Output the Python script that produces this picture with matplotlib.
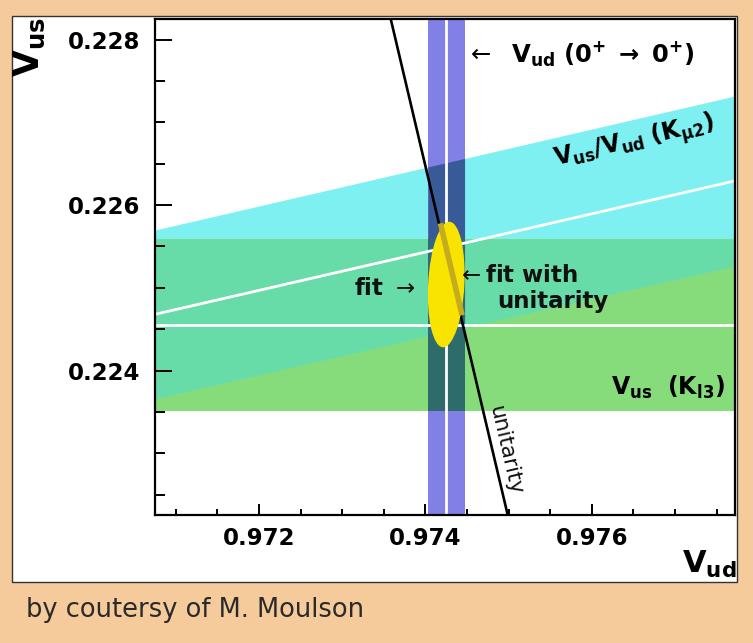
import numpy as np
import matplotlib.pyplot as plt
from matplotlib.patches import Ellipse, Rectangle
from matplotlib.ticker import MultipleLocator, FormatStrFormatter

# values
vud_00 = 0.97425          # V_ud from 0+ -> 0+ decays
vud_00_err = 0.00022
vus_kl3 = 0.22455         # V_us from K_l3
vus_kl3_err = 0.00104
ratio_kmu2 = 0.23145      # V_us/V_ud from K_mu2
ratio_kmu2_err = 0.00105

fit_center = [0.97425, 0.22504]
fit_size = [0.000435, 0.00152]   # full widths of the fit ellipse
fit_angle = -3.0

unitarity_vud = [0.97355, 0.97502]
unitarity_vus = [0.22839, 0.22212]
fit_unit_vud = [0.97418, 0.97444]
fit_unit_vus = [0.22578, 0.22467]

xlim = (0.97075, 0.97772)
ylim = (0.22226, 0.22825)

# colours
PEACH = '#f6cb9c'
CYAN = '#7ff0f1'
GREEN = '#86dc7a'
MINT = '#68dca8'
BLUE = '#8080e6'
BLUE_CYAN = '#385a96'
BLUE_MINT = '#2f6a80'
BLUE_GREEN = '#2e6c6c'
YELLOW = '#f8e400'
GOLD = '#c4ac1c'

W, H = 753, 643


def px(x, y):
    return x / W, 1 - y / H


fig = plt.figure(figsize=(W / 100, H / 100), dpi=100, facecolor=PEACH)
panel = Rectangle(px(12, 582), (737 - 12) / W, (582 - 16) / H, transform=fig.transFigure,
                  facecolor='white', edgecolor='#333333', lw=1, zorder=-1)
fig.patches.append(panel)

l, b = px(155, 514.5)
r, t = px(735, 19)
ax = fig.add_axes([l, b, r - l, t - b])
ax.set_facecolor('none')

# K_mu2 band and K_l3 band
xs = np.linspace(xlim[0] - 0.001, xlim[1] + 0.001, 300)
kmu_lo = (ratio_kmu2 - ratio_kmu2_err) * xs
kmu_hi = (ratio_kmu2 + ratio_kmu2_err) * xs
kl3_lo = vus_kl3 - vus_kl3_err
kl3_hi = vus_kl3 + vus_kl3_err
ax.fill_between(xs, kmu_lo, kmu_hi, color=CYAN, lw=0, zorder=1)
ax.axhspan(kl3_lo, kl3_hi, color=GREEN, lw=0, zorder=1.1)
lo = np.maximum(kmu_lo, kl3_lo)
hi = np.minimum(kmu_hi, kl3_hi)
ax.fill_between(xs, lo, hi, where=hi > lo, interpolate=True, color=MINT, lw=0, zorder=1.2)

# V_ud band, darker where it crosses the others
xb = np.linspace(vud_00 - vud_00_err, vud_00 + vud_00_err, 20)
ax.axvspan(vud_00 - vud_00_err, vud_00 + vud_00_err, color=BLUE, lw=0, zorder=2)
b_lo = (ratio_kmu2 - ratio_kmu2_err) * xb
b_hi = (ratio_kmu2 + ratio_kmu2_err) * xb
ax.fill_between(xb, b_lo, b_hi, color=BLUE_CYAN, lw=0, zorder=2.1)
ax.fill_between(xb, kl3_lo, kl3_hi, color=BLUE_GREEN, lw=0, zorder=2.2)
ax.fill_between(xb, np.maximum(b_lo, kl3_lo), np.minimum(b_hi, kl3_hi),
                color=BLUE_MINT, lw=0, zorder=2.3)

# central values
ax.axvline(vud_00, color='white', lw=2, zorder=3)
ax.axhline(vus_kl3, color='white', lw=2, zorder=3)
ax.plot(xs, ratio_kmu2 * xs, color='white', lw=2, zorder=3)

# unitarity
ax.plot(unitarity_vud, unitarity_vus, color='black', lw=1.9, zorder=4)

# fits
ax.add_patch(Ellipse(fit_center, fit_size[0], fit_size[1], angle=fit_angle,
                     facecolor=YELLOW, edgecolor='none', zorder=5))
ax.plot(fit_unit_vud, fit_unit_vus, color=GOLD, lw=4, solid_capstyle='butt', zorder=6)

ax.set_xlim(xlim)
ax.set_ylim(ylim)

ax.xaxis.set_major_locator(MultipleLocator(0.002))
ax.xaxis.set_minor_locator(MultipleLocator(0.0005))
ax.yaxis.set_major_locator(MultipleLocator(0.002))
ax.yaxis.set_minor_locator(MultipleLocator(0.0005))
ax.xaxis.set_major_formatter(FormatStrFormatter('%.3f'))
ax.yaxis.set_major_formatter(FormatStrFormatter('%.3f'))

ax.tick_params(axis='both', which='both', direction='in', width=1.4, color='black',
               top=False, right=False, labelsize=16.5)
ax.tick_params(axis='x', which='major', length=8, pad=9)
ax.tick_params(axis='x', which='minor', length=4.3)
ax.tick_params(axis='y', which='major', length=12.5, pad=10.5)
ax.tick_params(axis='y', which='minor', length=7.2)
for lab in ax.get_xticklabels() + ax.get_yticklabels():
    lab.set_fontweight('bold')
for sp in ax.spines.values():
    sp.set_linewidth(1.6)
    sp.set_zorder(10)

# annotations
bold = dict(fontsize=16.5, fontweight='bold', color='#111111')
fig.text(*px(466, 63), r'$\leftarrow$  $\mathbf{V_{ud}\ (0^{+}\ \rightarrow\ 0^{+})}$',
         ha='left', va='baseline', fontsize=17.5)
fig.text(*px(556, 166), r'$\mathbf{V_{us}/V_{ud}\ (K_{\mu2})}$', ha='left', va='baseline',
         rotation=13, rotation_mode='anchor', fontsize=17)
fig.text(*px(611, 395), r'$\mathbf{V_{us}\ \ (K_{l3})}$', ha='left', va='baseline', fontsize=17)
fig.text(*px(354, 295), r'fit $\rightarrow$', ha='left', va='baseline', **bold)
fig.text(*px(457, 282), r'$\leftarrow$fit with', ha='left', va='baseline', **bold)
fig.text(*px(497, 308), 'unitarity', ha='left', va='baseline', **bold)
ax.text(0.97477, 0.22356, 'unitarity', rotation=-77, rotation_mode='anchor',
        transform_rotates_text=True, ha='left', va='baseline', fontsize=15.5, color='#111111')

# axis titles
fig.text(*px(12, 17), r'$\mathbf{V_{us}}$', rotation=90, ha='left', va='top', fontsize=25)
fig.text(*px(737, 573), r'$\mathbf{V_{ud}}$', ha='right', va='baseline', fontsize=22)

fig.text(*px(26, 617), 'by coutersy of M. Moulson', ha='left', va='baseline',
         fontsize=18.5, color='#2a2a2a')

fig.savefig('out.png', dpi=100, facecolor=PEACH)
